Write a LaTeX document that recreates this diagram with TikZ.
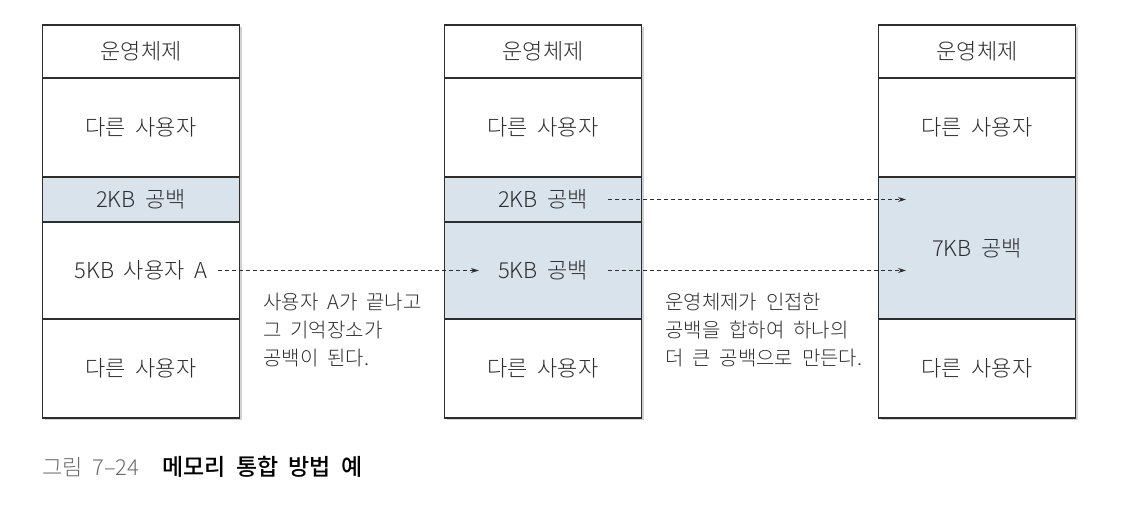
\documentclass[tikz,border=0pt]{standalone}
\usepackage{fontspec}
\setmainfont{Noto Sans CJK KR}[UprightFont={* Light},BoldFont={* Medium},WordSpace=2]
\usetikzlibrary{arrows.meta,shadows}
\definecolor{holefill}{HTML}{D9E3EC}
\definecolor{ink}{HTML}{2E2E2E}
\definecolor{capgray}{HTML}{6A6A6A}

\begin{document}
\begin{tikzpicture}[
  x=1pt,y=-1pt,
  cell/.style={draw=ink,line width=1.1pt,fill=white,minimum width=197pt,inner sep=0pt,
    font=\fontsize{22}{26}\selectfont,text=ink,
    drop shadow={shadow xshift=2pt,shadow yshift=-2pt,opacity=0.18,fill=black}},
  hole/.style={cell,fill=holefill},
  lbl/.style={inner sep=0pt,font=\fontsize{22}{26}\selectfont,text=ink},
  note/.style={align=left,anchor=north west,inner sep=0pt,font=\fontsize{20}{28}\selectfont,text=ink},
  arr/.style={-{Stealth[length=8pt,width=5pt]},dash pattern=on 4pt off 3pt,line width=0.8pt,draw=ink}
]
\useasboundingbox (0,0) rectangle (1136,516);
% before: user A still holds 5KB
\node[cell,minimum height=53pt] (a1) at (141,51.5) {운영체제};
\node[cell,minimum height=99pt] (a2) at (141,127.5) {다른 사용자};
\node[hole,minimum height=45pt] (a3) at (141,199.5) {2KB 공백};
\node[cell,minimum height=97pt] (a4) at (141,270.5) {};
\node[cell,minimum height=99pt] (a5) at (141,368.5) {다른 사용자};
\node[lbl] (uA) at (a4) {5KB 사용자 A};
% user A finished
\node[cell,minimum height=53pt] (b1) at (543,51.5) {운영체제};
\node[cell,minimum height=99pt] (b2) at (543,127.5) {다른 사용자};
\node[hole,minimum height=45pt] (b3) at (543,199.5) {};
\node[hole,minimum height=97pt] (b4) at (543,270.5) {};
\node[cell,minimum height=99pt] (b5) at (543,368.5) {다른 사용자};
\node[lbl] (g2) at (b3) {2KB 공백};
\node[lbl] (g5) at (b4) {5KB 공백};
% merged by the OS
\node[cell,minimum height=53pt] (c1) at (977,51.5) {운영체제};
\node[cell,minimum height=99pt] (c2) at (977,127.5) {다른 사용자};
\node[hole,minimum height=142pt] (c3) at (977,248) {7KB 공백};
\node[cell,minimum height=99pt] (c5) at (977,368.5) {다른 사용자};
\coordinate (t2) at (906,199.5);
\coordinate (t5) at (906,270.5);
% connectors
\draw[arr] ([xshift=10pt]uA.east) -- ([xshift=-19pt]g5.west);
\foreach \a/\b in {g2/t2,g5/t5} \draw[arr] ([xshift=20pt]\a.east) -- (\b);
% notes
\node[note] (n1) at (263,293) {사용자 A가 끝나고\\그 기억장소가\\공백이 된다.};
\node[note] (n2) at (665,293) {운영체제가 인접한\\공백을 합하여 하나의\\더 큰 공백으로 만든다.};
% caption
\node[anchor=west,inner sep=0pt,font=\fontsize{22}{26}\selectfont,text=capgray] (fig) at (42,467) {그림 7–24};
\node[anchor=west,inner sep=0pt,font=\fontsize{23}{26}\selectfont\bfseries,text=black] (cap) at (162,467) {메모리 통합 방법 예};
\end{tikzpicture}
\end{document}
